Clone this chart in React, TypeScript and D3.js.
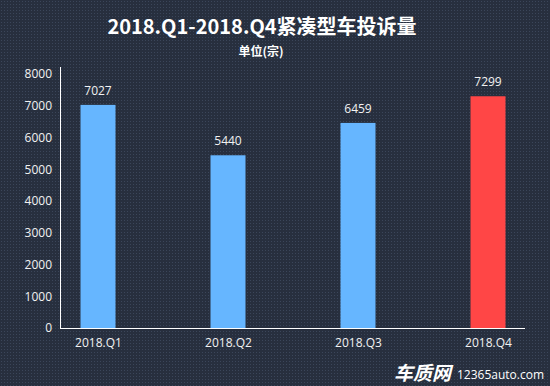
import * as d3 from 'd3'
import { useEffect, useRef } from 'react'

const quarters = ['2018.Q1', '2018.Q2', '2018.Q3', '2018.Q4']
const complaints = [7027, 5440, 6459, 7299]
const yTicks = [0, 1000, 2000, 3000, 4000, 5000, 6000, 7000, 8000]
const barColors = ['#66b6ff', '#66b6ff', '#66b6ff', '#ff4646']

const W = 550
const H = 386
const FONT = '"Open Sans", "Noto Sans CJK SC", sans-serif'
const CJK = '"Noto Sans CJK SC", sans-serif'

export default function App() {
    const svgRef = useRef(null) as any

    useEffect(() => {
        document.body.style.margin = '0'
        const svg = d3.select(svgRef.current)
        svg.selectAll('*').remove()

        const defs = svg.append('defs')
        const pat = defs.append('pattern')
            .attr('id', 'bgdots')
            .attr('width', 3)
            .attr('height', 3)
            .attr('patternUnits', 'userSpaceOnUse')
        pat.append('rect').attr('width', 3).attr('height', 3).attr('fill', '#272f3e')
        pat.append('rect').attr('x', 1).attr('y', 1).attr('width', 1).attr('height', 1).attr('fill', '#3b465a')

        svg.append('rect').attr('width', W).attr('height', H).attr('fill', 'url(#bgdots)')

        const yScale = d3.scaleLinear().domain([0, 8000]).range([328, 74])
        const xScale = d3.scalePoint().domain(quarters).range([98, 488])
        const barW = 35

        // title
        svg.append('text')
            .attr('x', 262).attr('y', 34)
            .attr('text-anchor', 'middle')
            .attr('fill', '#ffffff')
            .style('font-family', CJK)
            .style('font-size', '20px')
            .style('font-weight', 'bold')
            .text('2018.Q1-2018.Q4紧凑型车投诉量')

        svg.append('text')
            .attr('x', 261).attr('y', 56)
            .attr('text-anchor', 'middle')
            .attr('fill', '#ffffff')
            .style('font-family', CJK)
            .style('font-size', '12px')
            .style('font-weight', 'bold')
            .text('单位(宗)')

        // bars
        svg.selectAll('rect.bar')
            .data(complaints)
            .enter().append('rect')
            .attr('class', 'bar')
            .attr('x', (_d, i) => (xScale(quarters[i]) as number) - barW / 2)
            .attr('y', d => yScale(d))
            .attr('width', barW)
            .attr('height', d => yScale(0) - yScale(d))
            .attr('fill', (_d, i) => barColors[i])

        svg.selectAll('text.val')
            .data(complaints)
            .enter().append('text')
            .attr('class', 'val')
            .attr('x', (_d, i) => xScale(quarters[i]) as number)
            .attr('y', d => yScale(d) - 10)
            .attr('text-anchor', 'middle')
            .attr('fill', '#f2f2f2')
            .style('font-family', FONT)
            .style('font-size', '12px')
            .text(d => String(d))

        // y axis
        const yAxis = d3.axisLeft(yScale).tickValues(yTicks).tickFormat(d3.format('d')).tickSize(0).tickPadding(8)
        const gy = svg.append('g').attr('transform', 'translate(60,0)').call(yAxis)
        gy.select('.domain').remove()
        gy.selectAll('text')
            .attr('fill', '#f2f2f2')
            .style('font-family', FONT)
            .style('font-size', '12px')

        svg.append('line')
            .attr('x1', 60.5).attr('x2', 60.5)
            .attr('y1', 67).attr('y2', 328)
            .attr('stroke', '#ffffff').attr('stroke-width', 1)

        // x axis
        const xAxis = d3.axisBottom(xScale).tickSize(0).tickPadding(10)
        const gx = svg.append('g').attr('transform', 'translate(0,328)').call(xAxis)
        gx.select('.domain').remove()
        gx.selectAll('text')
            .attr('fill', '#f2f2f2')
            .style('font-family', FONT)
            .style('font-size', '12px')

        svg.append('line')
            .attr('x1', 60).attr('x2', 525)
            .attr('y1', 328.5).attr('y2', 328.5)
            .attr('stroke', '#ffffff').attr('stroke-width', 1)

        // watermark
        svg.append('text')
            .attr('x', 394).attr('y', 380)
            .attr('fill', '#ffffff')
            .style('font-family', CJK)
            .style('font-size', '19px')
            .style('font-weight', 'bold')
            .style('font-style', 'italic')
            .text('车质网')
        svg.append('text')
            .attr('x', 457).attr('y', 379)
            .attr('fill', '#ffffff')
            .style('font-family', FONT)
            .style('font-size', '12px')
            .text('12365auto.com')
    }, [])

    return (
        <div>
            <svg ref={svgRef} width={W} height={H} style={{ display: 'block' }} />
        </div>
    )
}
